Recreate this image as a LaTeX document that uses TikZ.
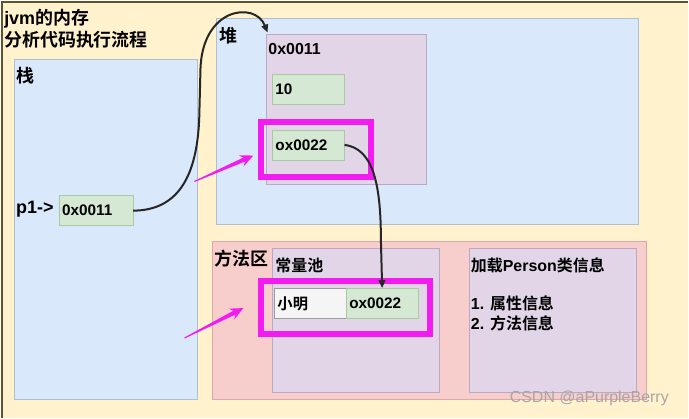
\documentclass[tikz,border=0pt]{standalone}
\usepackage{fontspec}
\setmainfont{Liberation Sans}
\newfontfamily\zhfont{Noto Sans CJK SC}[BoldFont={Noto Sans CJK SC Bold}]
\newcommand{\zh}[1]{{\zhfont #1}}
\usetikzlibrary{arrows.meta,positioning,calc}
\definecolor{creamBack}{HTML}{FFF2CC}
\definecolor{frameLine}{HTML}{5E5530}
\definecolor{blueBack}{HTML}{DAE8FC}
\definecolor{blueLine}{HTML}{AEBFD2}
\definecolor{roseBack}{HTML}{F8CECC}
\definecolor{roseLine}{HTML}{DDA9A6}
\definecolor{lilacBack}{HTML}{E1D5E7}
\definecolor{lilacLine}{HTML}{BBA9C4}
\definecolor{mintBack}{HTML}{D5E8D4}
\definecolor{mintLine}{HTML}{A9C9A0}
\definecolor{greyBack}{HTML}{F5F5F5}
\definecolor{greyLine}{HTML}{9C9C9C}
\definecolor{hotPink}{HTML}{F21CF0}

\begin{document}
\begin{tikzpicture}[x=0.75pt,y=-0.75pt,>={Triangle[length=6pt,width=5pt]},
  lbl/.style={anchor=north west,inner sep=0pt,align=left,font=\bfseries\fontsize{12}{15}\selectfont},
  biglbl/.style={lbl,font=\bfseries\fontsize{13.5}{16.5}\selectfont},
  area/.style={anchor=north west,inner sep=0pt,line width=0.75pt},
  cell/.style={draw=mintLine,fill=mintBack,anchor=north west,minimum width=54pt,minimum height=22.5pt,
    inner xsep=2.25pt,text width=49.5pt,align=left,font=\bfseries\fontsize{11.5}{13}\selectfont},
  hlbox/.style={draw=hotPink,line width=4.5pt,anchor=north west,inner sep=0pt},
  link/.style={->,line width=1.5pt,black!85}]

% background with frame edges
\fill[creamBack] (0,0) rectangle (689,418);
\draw[frameLine,line width=1.5pt] (0,1) -- (689,1);
\draw[frameLine,line width=1.5pt] (1,0) -- (1,418);

\node[biglbl] (title) at (3,8) {jvm\zh{的内存}\\\zh{分析代码执行流程}};

% stack
\node[area,draw=blueLine,fill=blueBack,minimum width=138pt,minimum height=255.75pt] (stack) at (13,58) {};
\node[biglbl] at (15,66) {\zh{栈}};
\node[biglbl] (p1) at (15,200) {p1->};
\node[cell,minimum width=55.5pt,text width=51pt] (stackRef) at (58,195) {0x0011};

% heap
\node[area,draw=blueLine,fill=blueBack,minimum width=317.25pt,minimum height=155.25pt] (heap) at (216,17) {};
\node[biglbl] at (219,26) {\zh{堆}};
\node[area,draw=lilacLine,fill=lilacBack,minimum width=120pt,minimum height=113.25pt] (heapObj) at (266,33) {};
\node[lbl] at (268,42) {0x0011};
\node[cell] (ageVal) at (272,73) {10};
\node[cell] (heapRef) at (272,129) {ox0022};
\node[hlbox,minimum width=82.5pt,minimum height=42pt] (hlHeap) at (258,118) {};

% method area
\node[area,draw=roseLine,fill=roseBack,minimum width=326.25pt,minimum height=118.5pt] (method) at (212,241) {};
\node[biglbl] at (214,249) {\zh{方法区}};
\node[area,draw=lilacLine,fill=lilacBack,minimum width=125.25pt,minimum height=108pt] (pool) at (272,248) {};
\node[lbl] at (275,257) {\zh{常量池}};
\node[cell,draw=greyLine,fill=greyBack] (nameVal) at (274,288) {\zh{小明}};
\node[cell] (poolRef) at (346,288) {ox0022};
\node[hlbox,minimum width=126.75pt,minimum height=39.75pt] (hlPool) at (258,278) {};
\node[area,draw=lilacLine,fill=lilacBack,minimum width=126pt,minimum height=108pt] (classInfo) at (469,248) {};
\node[lbl] at (471,257) {\zh{加载}Person\zh{类信息}\\[13.5pt]1. \zh{属性信息}\\2. \zh{方法信息}};

% references
\draw[link] (stackRef.east) .. controls (175,210) and (198,180) .. (199,110)
  -- (200,70) .. controls (201,6) and (255,0) .. ([xshift=1pt,yshift=1pt]heapObj.north west);
\draw[link] (heapRef.east) .. controls (372,148) and (381,180) .. (381,240) -- (poolRef.north);

% pink pointers (tapered)
\coordinate (tailA) at (194,181);
\coordinate (tipA) at (253,155);
\coordinate (tailB) at (184,338);
\coordinate (tipB) at (243,308);
\foreach \t/\h in {tailA/tipA,tailB/tipB}{
  \coordinate (neck) at ($(\h)!7.5pt!(\t)$);
  \coordinate (base) at ($(\h)!10pt!(\t)$);
  \fill[hotPink] ($(\t)!0.4pt!90:(\h)$) -- ($(neck)!1.6pt!90:(\h)$) -- ($(base)!4.6pt!90:(\h)$) -- (\h)
    -- ($(base)!4.6pt!-90:(\h)$) -- ($(neck)!1.6pt!-90:(\h)$) -- ($(\t)!0.4pt!-90:(\h)$) -- cycle;
}

\node[gray!70,font=\fontsize{12}{14}\selectfont] (mark) at (590,399) {CSDN @aPurpleBerry};
\end{tikzpicture}
\end{document}
